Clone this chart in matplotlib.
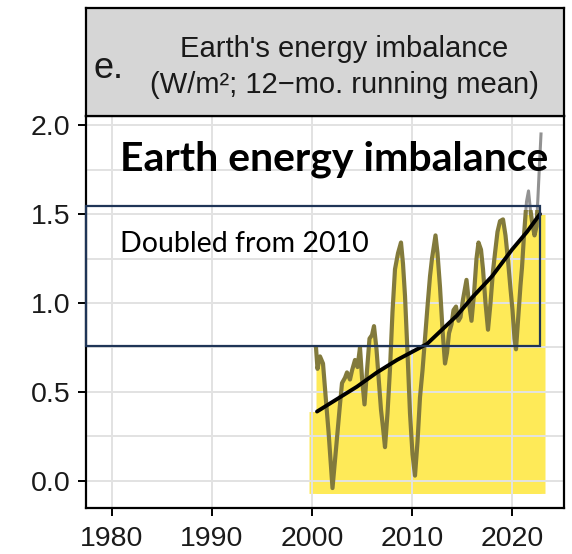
#!/usr/bin/env python3
"""Earth's energy imbalance panel (12-month running mean) with trend highlight."""

import numpy as np
import matplotlib

matplotlib.use("Agg")
import matplotlib.pyplot as plt
from matplotlib.patches import Rectangle

# --- data ------------------------------------------------------------------
eei_year = [
    2000.4, 2000.55, 2000.8, 2001.1, 2001.4, 2001.65, 2002.05, 2002.45, 2002.75,
    2003.0, 2003.3, 2003.5, 2003.8, 2004.0, 2004.3, 2004.55, 2004.8, 2005.0,
    2005.25, 2005.5, 2005.75, 2006.0, 2006.2, 2006.45, 2006.7, 2006.9, 2007.1,
    2007.3, 2007.55, 2007.8, 2008.05, 2008.3, 2008.6, 2008.9, 2009.1, 2009.3,
    2009.55, 2009.8, 2010.05, 2010.3, 2010.55, 2010.8, 2011.05, 2011.3, 2011.55,
    2011.8, 2012.0, 2012.35, 2012.55, 2012.8, 2013.05, 2013.3, 2013.5, 2013.7,
    2013.95, 2014.15, 2014.4, 2014.65, 2014.85, 2015.1, 2015.45, 2015.7, 2015.95,
    2016.2, 2016.45, 2016.65, 2016.9, 2017.1, 2017.35, 2017.6, 2017.85, 2018.1,
    2018.3, 2018.55, 2018.8, 2019.1, 2019.35, 2019.6, 2019.85, 2020.05, 2020.25,
    2020.4, 2020.6, 2020.85, 2021.0, 2021.2, 2021.45, 2021.65, 2021.85, 2022.0,
    2022.25, 2022.45, 2022.6, 2022.75, 2022.9,
]
eei_value = [
    0.75, 0.63, 0.70, 0.66, 0.45, 0.28, -0.04, 0.21, 0.40,
    0.55, 0.58, 0.61, 0.57, 0.62, 0.68, 0.64, 0.75, 0.58,
    0.43, 0.62, 0.80, 0.82, 0.87, 0.74, 0.55, 0.40, 0.30,
    0.19, 0.38, 0.63, 0.95, 1.19, 1.28, 1.34, 1.22, 1.04,
    0.72, 0.38, 0.15, 0.03, 0.22, 0.47, 0.62, 0.80, 0.98,
    1.15, 1.25, 1.38, 1.28, 1.09, 0.85, 0.66, 0.72, 0.83,
    0.88, 0.96, 0.98, 0.90, 0.92, 1.02, 1.13, 1.00, 0.90,
    1.05, 1.25, 1.34, 1.30, 1.19, 1.00, 0.85, 1.00, 1.18,
    1.28, 1.40, 1.46, 1.47, 1.38, 1.24, 1.08, 0.96, 0.80,
    0.74, 0.90, 1.10, 1.20, 1.38, 1.57, 1.63, 1.52, 1.46,
    1.38, 1.43, 1.60, 1.78, 1.95,
]
trend_year = [2000.5, 2002.5, 2004.5, 2006.5, 2008.5, 2010.5, 2011.5, 2013.0,
              2014.5, 2016.0, 2018.0, 2020.0, 2021.5, 2022.8]
trend_value = [0.39, 0.46, 0.53, 0.61, 0.68, 0.74, 0.77, 0.85,
               0.93, 1.03, 1.15, 1.30, 1.40, 1.50]

x_ticks = [1980, 1990, 2000, 2010, 2020]
y_ticks = [0.0, 0.5, 1.0, 1.5, 2.0]

strip_title = "Earth's energy imbalance"
strip_units = "(W/m\u00b2; 12\u2212mo. running mean)"
big_title = "Earth energy imbalance"
box_note = "Doubled from 2010"

# highlight extents (yellow area and navy box)
fill_x = (1999.7, 2023.3)
fill_floor = -0.07
fill_cap = 1.5
box_x = (1977.4, 2022.8)
box_y = (0.76, 1.545)

YELLOW = "#feea58"
OLIVE = "#827a3c"
NAVY = "#1f3557"
SANS = ["Liberation Sans", "DejaVu Sans"]
CAL = ["Lato", "DejaVu Sans"]

fig = plt.figure(figsize=(5.72, 5.54), dpi=100)
W, H = 572, 554
ax = fig.add_axes([86 / W, (H - 508) / H, (564 - 86) / W, (508 - 116) / H])

ax.set_xlim(1977.4, 2025.2)
ax.set_ylim(-0.152, 2.051)
ax.set_xticks(x_ticks)
ax.set_yticks(y_ticks)
ax.set_yticklabels([f"{v:.1f}" for v in y_ticks])
ax.set_xticks(np.arange(1980, 2021, 10), minor=True)
ax.set_yticks(np.arange(0, 2.01, 0.25), minor=True)
ax.grid(which="both", color="#e2e2e2", lw=1.4, zorder=0)
ax.tick_params(which="minor", length=0)
ax.tick_params(which="major", length=6, width=1.4, color="black",
               labelsize=20.5)
ax.tick_params(axis="x", pad=7)
ax.tick_params(axis="y", pad=5)
for lab in ax.get_xticklabels() + ax.get_yticklabels():
    lab.set_family(SANS)
    lab.set_color("#1a1a1a")
for sp in ax.spines.values():
    sp.set_linewidth(1.6)
    sp.set_color("black")

# yellow area: union of area under the trend and under the series (capped)
ty = np.array(trend_value)
ax.fill_between([fill_x[0]] + trend_year + [fill_x[1]],
                fill_floor, [ty[0]] + list(ty) + [ty[-1]],
                color=YELLOW, lw=0, zorder=1)
ax.fill_between(eei_year, fill_floor, np.minimum(eei_value, fill_cap),
                color=YELLOW, lw=0, zorder=1)

# series: olive inside the box, grey above it
low, = ax.plot(eei_year, eei_value, color=OLIVE, lw=3.0, zorder=3)
high, = ax.plot(eei_year, eei_value, color="#929292", lw=2.2, zorder=3)
low.set_clip_path(Rectangle((box_x[0], -1), 60, 1 + box_y[1] - 0.02,
                            transform=ax.transData))
high.set_clip_path(Rectangle((box_x[0], box_y[1] - 0.02), 60, 2,
                             transform=ax.transData))

ax.plot(trend_year, trend_value, color="black", lw=2.8, zorder=4,
        solid_capstyle="round")

ax.add_patch(Rectangle((box_x[0], box_y[0]), box_x[1] - box_x[0],
                       box_y[1] - box_y[0], fill=False, ec=NAVY, lw=1.6,
                       zorder=5, clip_on=False))

fig.text(120 / W, (H - 171) / H, big_title, fontsize=29.5, fontweight="bold",
         family=CAL, ha="left", va="baseline")
fig.text(120 / W, (H - 252) / H, box_note, fontsize=20.5,
         family=CAL, ha="left", va="baseline")

# facet strip on top
strip = fig.add_axes([86 / W, (H - 116) / H, (564 - 86) / W, (116 - 8) / H])
strip.set_facecolor("#d6d6d6")
strip.set_xticks([])
strip.set_yticks([])
for sp in strip.spines.values():
    sp.set_linewidth(1.6)
strip.text(0.54, 0.545, strip_title, transform=strip.transAxes, fontsize=21,
           family=SANS, color="#1a1a1a", ha="center", va="baseline")
strip.text(0.54, 0.215, strip_units, transform=strip.transAxes, fontsize=21,
           family=SANS, color="#1a1a1a", ha="center", va="baseline")
strip.text(0.015, 0.35, "e.", transform=strip.transAxes, fontsize=26,
           family=SANS, color="#1a1a1a", ha="left", va="baseline")

fig.savefig("out.png", dpi=100)
